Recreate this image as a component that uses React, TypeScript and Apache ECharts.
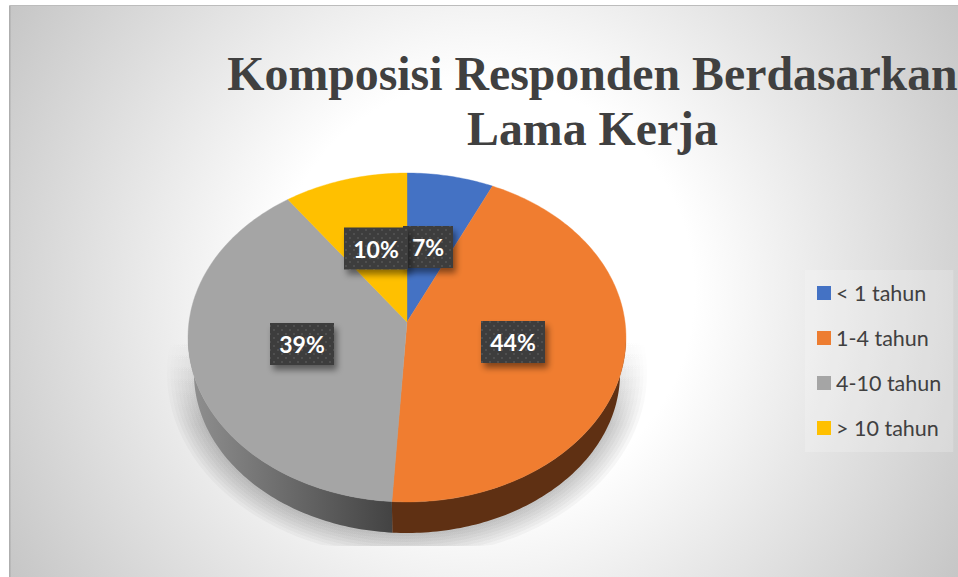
import React, { useEffect, useRef } from "react";
import * as echarts from "echarts";

const TITLE = "Komposisi Responden Berdasarkan\nLama Kerja";
const CATEGORIES = ["< 1 tahun", "1-4 tahun", "4-10 tahun", "> 10 tahun"];
const VALUES = [7, 44, 39, 10];
const COLORS = ["#4472c4", "#ed7d31", "#a5a5a5", "#ffc000"];
const TOP_COLORS = ["#4472c4", "#f07d30", "#a5a5a5", "#ffc000"];
const LABEL_CENTERS = [
  [428, 247],
  [513, 342],
  [302, 344],
  [376, 248.5],
];
const LABEL_WIDTHS = [50, 64, 64, 64];

// projection of the tilted pie
const APEX = { x: 407, y: 322 };
const K = 0.0942;
const A = 163;
const B = 218;
const RIM_CY = 337.5;
const DEPTH_DY = 35.5;
const DEPTH_SCALE = 0.973;
const FRONT_FROM = 95.4;
const FRONT_TO = 264.6;

function rim(deg: number) {
  const a = (deg * Math.PI) / 180;
  const s = Math.sin(a);
  const c = Math.cos(a);
  const w = 1 + K * c;
  return [APEX.x + (B * s) / w, APEX.y - (A * c) / w];
}
function lowerRim(deg: number) {
  const [x, y] = rim(deg);
  return [APEX.x + (x - APEX.x) * DEPTH_SCALE, RIM_CY + DEPTH_DY + (y - RIM_CY) * DEPTH_SCALE];
}
function arc(from: number, to: number, fn: (d: number) => number[]) {
  const pts: number[][] = [];
  const n = Math.max(2, Math.ceil(Math.abs(to - from)));
  for (let i = 0; i <= n; i++) pts.push(fn(from + ((to - from) * i) / n));
  return pts;
}

function makeTile() {
  const c = document.createElement("canvas");
  c.width = 8;
  c.height = 8;
  const g = c.getContext("2d")!;
  g.fillStyle = "#3e3e3e";
  g.fillRect(0, 0, 8, 8);
  g.fillStyle = "#505050";
  g.fillRect(1, 1, 2, 2);
  g.fillRect(5, 5, 2, 2);
  return c;
}

function shadowLayers() {
  const out: any[] = [];
  const BOTTOM = 546;
  for (let i = 0; i < 9; i++) {
    const rx = 212 + i * 3.5;
    const ry = 160 + i * 3;
    const pts: number[][] = [];
    for (let d = 0; d <= 360; d += 3) {
      const t = (d * Math.PI) / 180;
      const y = 373 + ry * Math.cos(t);
      const x = 407 + rx * Math.sin(t);
      if (y >= 335) pts.push([x, Math.min(y, BOTTOM)]);
    }
    out.push({
      type: "polygon",
      z: -5,
      silent: true,
      shape: { points: pts },
      style: {
        fill: new echarts.graphic.LinearGradient(
          0,
          338,
          0,
          425,
          [
            { offset: 0, color: "rgba(0,0,0,0)" },
            { offset: 1, color: "rgba(0,0,0,0.032)" },
          ],
          true
        ),
      },
    });
  }
  return out;
}

export default function App() {
  const ref = useRef<HTMLDivElement>(null);
  useEffect(() => {
    const chart = echarts.init(ref.current!, undefined, { renderer: "svg" });
    const tile = makeTile();
    const pattern: any = { image: tile, repeat: "repeat", imageWidth: 8, imageHeight: 8 };

    const series = CATEGORIES.map((name, idx) => ({
      type: "custom",
      name,
      coordinateSystem: "none",
      silent: true,
      z: 2,
      itemStyle: { color: COLORS[idx] },
      data: [VALUES[idx]],
      renderItem: (_p: any, api: any) => {
        const value = api.value(0);
        const total = VALUES.reduce((s, v) => s + v, 0);
        const before = VALUES.slice(0, idx).reduce((s, v) => s + v, 0);
        const a0 = (before / total) * 360;
        const a1 = ((before + value) / total) * 360;
        const children: any[] = [];
        const f0 = Math.max(a0, FRONT_FROM);
        const f1 = Math.min(a1, FRONT_TO);
        if (f1 > f0) {
          const upper = arc(f0, f1, rim);
          const lower = arc(f1, f0, lowerRim);
          const fill =
            idx === 1
              ? "#5f3013"
              : new echarts.graphic.LinearGradient(
                  194,
                  0,
                  392,
                  0,
                  [
                    { offset: 0, color: "#8e8e8e" },
                    { offset: 1, color: "#434343" },
                  ],
                  true
                );
          children.push({
            type: "polygon",
            z2: 1,
            shape: { points: upper.concat(lower) },
            style: { fill },
          });
        }
        const fillTop = TOP_COLORS[idx];
        children.push({
          type: "polygon",
          z2: 10,
          shape: { points: [[APEX.x, APEX.y], ...arc(a0, a1, rim)] },
          style: { fill: fillTop, stroke: fillTop, lineWidth: 0.4 },
        });
        const [cx, cy] = LABEL_CENTERS[idx];
        const w = LABEL_WIDTHS[idx];
        children.push({
          type: "rect",
          z2: 100 + idx * 2,
          shape: { x: cx - w / 2, y: cy - 21, width: w, height: 42 },
          style: {
            fill: pattern,
            shadowColor: "rgba(0,0,0,0.45)",
            shadowBlur: 6,
            shadowOffsetX: 3,
            shadowOffsetY: 5,
          },
        });
        children.push({
          type: "text",
          z2: 101 + idx * 2,
          style: {
            text: `${value}%`,
            x: cx,
            y: cy,
            align: "center",
            verticalAlign: "middle",
            fill: "#ffffff",
            fontFamily: "Lato",
            fontWeight: "bold",
            fontSize: 23,
          },
        });
        return { type: "group", children };
      },
    }));

    chart.setOption({
      animation: false,
      title: {
        text: TITLE,
        left: 592.5,
        top: 46,
        textAlign: "center",
        padding: 0,
        textStyle: {
          fontFamily: "Liberation Serif",
          fontWeight: "bold",
          fontSize: 47.8,
          lineHeight: 55,
          color: "#404040",
        },
      },
      legend: {
        orient: "vertical",
        left: 805,
        top: 270,
        padding: [12, 12, 13, 12],
        data: CATEGORIES,
        icon: "rect",
        itemWidth: 14,
        itemHeight: 14,
        itemGap: 23,
        selectedMode: false,
        backgroundColor: "rgba(255,255,255,0.2)",
        textStyle: {
          fontFamily: "Lato",
          fontSize: 21.5,
          color: "#404040",
        },
      },
      graphic: [
        {
          type: "rect",
          z: -10,
          silent: true,
          shape: { x: 9.5, y: 5.5, width: 960, height: 580 },
          style: {
            fill: new echarts.graphic.RadialGradient(
              484,
              291,
              553,
              [
                { offset: 0, color: "#ffffff" },
                { offset: 0.38, color: "#ffffff" },
                { offset: 1, color: "#c6c6c6" },
              ],
              true
            ),
            stroke: "#bcbcbc",
            lineWidth: 1,
          },
        },
        {
          type: "rect",
          z: -9,
          silent: true,
          shape: { x: 9, y: 6, width: 2, height: 571 },
          style: { fill: "rgba(0,0,0,0.07)" },
        },
        ...shadowLayers(),
      ],
      series,
    });
    return () => chart.dispose();
  }, []);
  return (
    <div
      ref={ref}
      style={{ position: "fixed", left: 0, top: 0, width: 958, height: 577, background: "#fff" }}
    />
  );
}
